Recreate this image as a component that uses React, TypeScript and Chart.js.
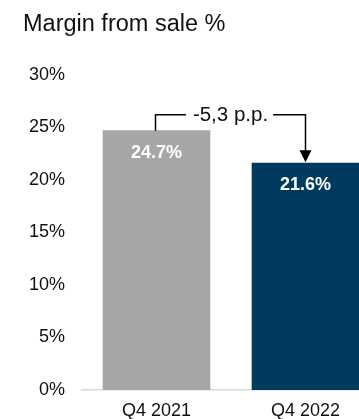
import React, { useEffect, useRef } from "react";
import { Chart, registerables } from "chart.js";

Chart.register(...registerables);

const categories = ["Q4 2021", "Q4 2022"];
const marginValues = [24.7, 21.6];
const barLabels = ["24.7%", "21.6%"];
const barColors = ["#A6A6A6", "#003A5D"];
const yTicks = [0, 5, 10, 15, 20, 25, 30];
const chartTitle = "Margin from sale %";
const changeLabel = "-5,3 p.p.";

const FONT = "'Liberation Sans', Arial, Helvetica, sans-serif";

const overlayPlugin = {
  id: "overlay",
  afterDatasetsDraw(chart: any) {
    const ctx = chart.ctx;
    const meta = chart.getDatasetMeta(0);
    const b1 = meta.data[0];
    const b2 = meta.data[1];
    ctx.save();
    // title
    ctx.fillStyle = "#111111";
    ctx.font = `23.5px ${FONT}`;
    ctx.textAlign = "left";
    ctx.textBaseline = "alphabetic";
    ctx.fillText(chartTitle, 23, 31);

    // bar value labels
    ctx.fillStyle = "#FFFFFF";
    ctx.font = `bold 18px ${FONT}`;
    ctx.textAlign = "center";
    ctx.textBaseline = "middle";
    meta.data.forEach((bar: any, i: number) => {
      ctx.fillText(barLabels[i], bar.x, bar.y + 22);
    });

    // bracket annotation
    const lineY = b1.y - 16;
    const x1 = b1.x - 1;
    const x2 = b2.x;
    const midX = (x1 + x2) / 2;
    ctx.font = `20.5px ${FONT}`;
    const tw = ctx.measureText(changeLabel).width;
    ctx.strokeStyle = "#000000";
    ctx.lineWidth = 1.5;
    ctx.beginPath();
    ctx.moveTo(x1, b1.y);
    ctx.lineTo(x1, lineY);
    ctx.lineTo(midX - tw / 2 - 7, lineY);
    ctx.moveTo(midX + tw / 2 + 5, lineY);
    ctx.lineTo(x2, lineY);
    ctx.lineTo(x2, b2.y - 12);
    ctx.stroke();
    ctx.fillStyle = "#000000";
    ctx.beginPath();
    ctx.moveTo(x2 - 6, b2.y - 13);
    ctx.lineTo(x2 + 6, b2.y - 13);
    ctx.lineTo(x2, b2.y - 1);
    ctx.closePath();
    ctx.fill();
    ctx.fillStyle = "#111111";
    ctx.textAlign = "center";
    ctx.textBaseline = "middle";
    ctx.fillText(changeLabel, midX, lineY + 1);
    ctx.restore();
  },
};

export default function App() {
  const canvasRef = useRef<HTMLCanvasElement | null>(null);

  useEffect(() => {
    if (!canvasRef.current) return;
    const chart = new Chart(canvasRef.current, {
      type: "bar",
      data: {
        labels: categories,
        datasets: [
          {
            data: marginValues,
            backgroundColor: barColors,
            barThickness: 107,
          },
        ],
      },
      options: {
        animation: false,
        responsive: false,
        maintainAspectRatio: false,
        layout: { padding: { top: 75, left: 0, right: 0, bottom: 0 } },
        plugins: {
          legend: { display: false },
          tooltip: { enabled: false },
          title: { display: false },
        },
        scales: {
          x: {
            grid: { display: false, drawTicks: false },
            border: { display: true, color: "#D9D9D9", width: 1.5 },
            ticks: {
              color: "#111111",
              font: { family: FONT, size: 18 },
              padding: 10,
            },
            afterFit(scale: any) {
              scale.height = 29;
            },
          },
          y: {
            min: 0,
            max: 30,
            afterBuildTicks(scale: any) {
              scale.ticks = yTicks.map((v) => ({ value: v }));
            },
            grid: { display: false, drawTicks: false },
            border: { display: false },
            ticks: {
              color: "#111111",
              font: { family: FONT, size: 18 },
              padding: 17,
              callback: (v: any) => `${v}%`,
            },
            afterFit(scale: any) {
              scale.width = 82;
            },
          },
        },
      },
      plugins: [overlayPlugin],
    });
    return () => chart.destroy();
  }, []);

  return (
    <div
      style={{
        position: "fixed",
        left: 0,
        top: 0,
        width: 359,
        height: 419,
        overflow: "hidden",
        background: "#FFFFFF",
      }}
    >
      <canvas
        ref={canvasRef}
        width={380}
        height={419}
        style={{ display: "block", width: 380, height: 419 }}
      />
    </div>
  );
}
